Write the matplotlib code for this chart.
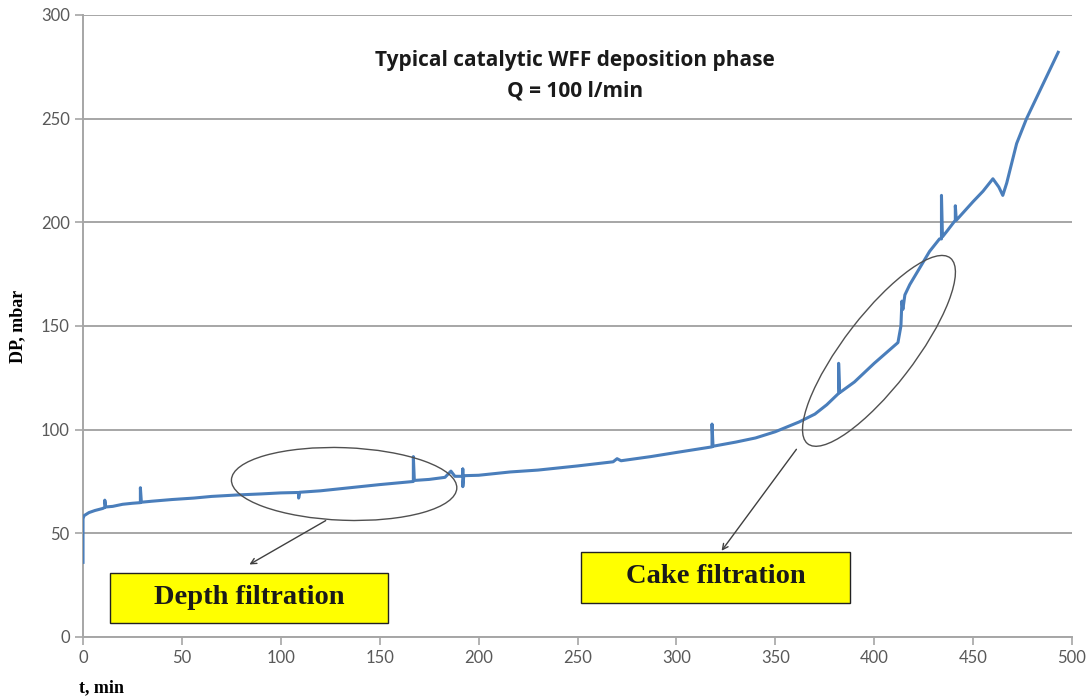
import matplotlib
matplotlib.use("Agg")
import matplotlib.pyplot as plt
from matplotlib.patches import Ellipse, Rectangle

# t, min  /  DP, mbar  (spikes are repeated t values)
t = [0, 0, 0.5, 3, 6, 10, 11, 11, 11.5, 15, 20, 25, 29, 29, 29.5, 35, 45, 56, 65, 78,
     90, 100, 109, 109, 109.5, 120, 135, 150, 167, 167, 167.5, 175, 183, 186, 188,
     192, 192, 192, 192.5, 200, 216, 230, 250, 268, 270, 272, 287, 300, 310,
     318, 318, 318.5, 330, 340, 350, 362, 370, 376, 382, 382, 382.5, 390, 400, 406,
     412, 413.5, 414, 414.5, 415.5, 418, 423, 428, 433, 434, 434, 434.5, 437,
     441, 441, 441.5, 450, 455, 460, 463, 465, 467, 472, 477, 485, 493]
dp = [36, 57, 58.5, 60, 61, 62, 62.5, 66, 62.7, 63, 64, 64.5, 64.8, 72, 65, 65.5, 66.3, 67, 67.8, 68.5,
      69, 69.5, 69.7, 67, 69.8, 70.5, 72, 73.5, 75, 87, 75.5, 76, 77, 80, 77.5,
      77.5, 81, 72.5, 77.8, 78, 79.6, 80.5, 82.5, 84.5, 86, 85, 87, 89, 90.5,
      91.7, 102.7, 92, 94, 96, 99, 103.7, 107.5, 112, 117.5, 132, 117.8, 123, 132, 137,
      142, 150, 162, 158, 165, 170, 178, 186, 192, 192, 213, 193, 196,
      201, 208, 201, 210, 215, 221, 217, 213, 219, 238, 250, 266, 282]

title_lines = ["Typical catalytic WFF deposition phase", "Q = 100 l/min"]
x_ticks = [0, 50, 100, 150, 200, 250, 300, 350, 400, 450, 500]
y_ticks = [0, 50, 100, 150, 200, 250, 300]

fig = plt.figure(figsize=(10.91, 6.97), dpi=100)
ax = fig.add_axes([0.0761, 0.0861, 0.9065, 0.8924])

ax.plot(t, dp, color="#4a7ebb", lw=2.2, zorder=3)

ax.set_xlim(0, 500)
ax.set_ylim(0, 300)
ax.set_xticks(x_ticks)
ax.set_yticks(y_ticks)
ax.grid(axis="y", color="#a6a6a6", lw=1.4)
ax.set_axisbelow(True)
for s in ["top", "right"]:
    ax.spines[s].set_visible(False)
for s in ["left", "bottom"]:
    ax.spines[s].set_color("#a6a6a6")
    ax.spines[s].set_linewidth(1.4)
ax.tick_params(axis="both", colors="#a6a6a6", length=6, width=1.2, labelcolor="#595959",
               labelsize=12)
for lab in ax.get_xticklabels() + ax.get_yticklabels():
    lab.set_family("Lato")

ax.set_xlabel("t, min", family="Liberation Serif", fontweight="bold", fontsize=13)
ax.set_ylabel("DP, mbar", family="Liberation Serif", fontweight="bold", fontsize=13)
ax.xaxis.set_label_coords(0.019, -0.068)
ax.yaxis.set_label_coords(-0.057, 0.50)

ax.text(248.7, 277.9, title_lines[0], ha="center", va="center", family="Open Sans",
        fontweight="bold", fontsize=15, color="#1a1a1a")
ax.text(248.7, 263.4, title_lines[1], ha="center", va="center", family="Open Sans",
        fontweight="bold", fontsize=15, color="#1a1a1a")

# ellipses
ax.add_patch(Ellipse((132, 73.8), 114, 35, angle=-2, fill=False, ec="#505050", lw=1, zorder=4))
ax.add_patch(Ellipse((402.4, 138), 115, 35, angle=51, fill=False, ec="#505050", lw=1, zorder=4))

# arrows
ax.annotate("", xy=(82.9, 34.3), xytext=(123.9, 56.8),
            arrowprops=dict(arrowstyle="->", color="#404040", lw=1))
ax.annotate("", xy=(322, 40.5), xytext=(361.5, 91.6),
            arrowprops=dict(arrowstyle="->", color="#404040", lw=1))

# labelled boxes
ax.add_patch(Rectangle((13.6, 6.8), 140.6, 24.1, fc="#ffff00", ec="#222222", lw=1, zorder=5))
ax.text(83.9, 19.0, "Depth filtration", ha="center", va="center", family="Liberation Serif",
        fontweight="bold", fontsize=20.5, color="#1a1a1a", zorder=6)
ax.add_patch(Rectangle((252, 16.4), 136, 24.6, fc="#ffff00", ec="#222222", lw=1, zorder=5))
ax.text(320, 29, "Cake filtration", ha="center", va="center", family="Liberation Serif",
        fontweight="bold", fontsize=20.5, color="#1a1a1a", zorder=6)

plt.savefig("out.png", dpi=100)
